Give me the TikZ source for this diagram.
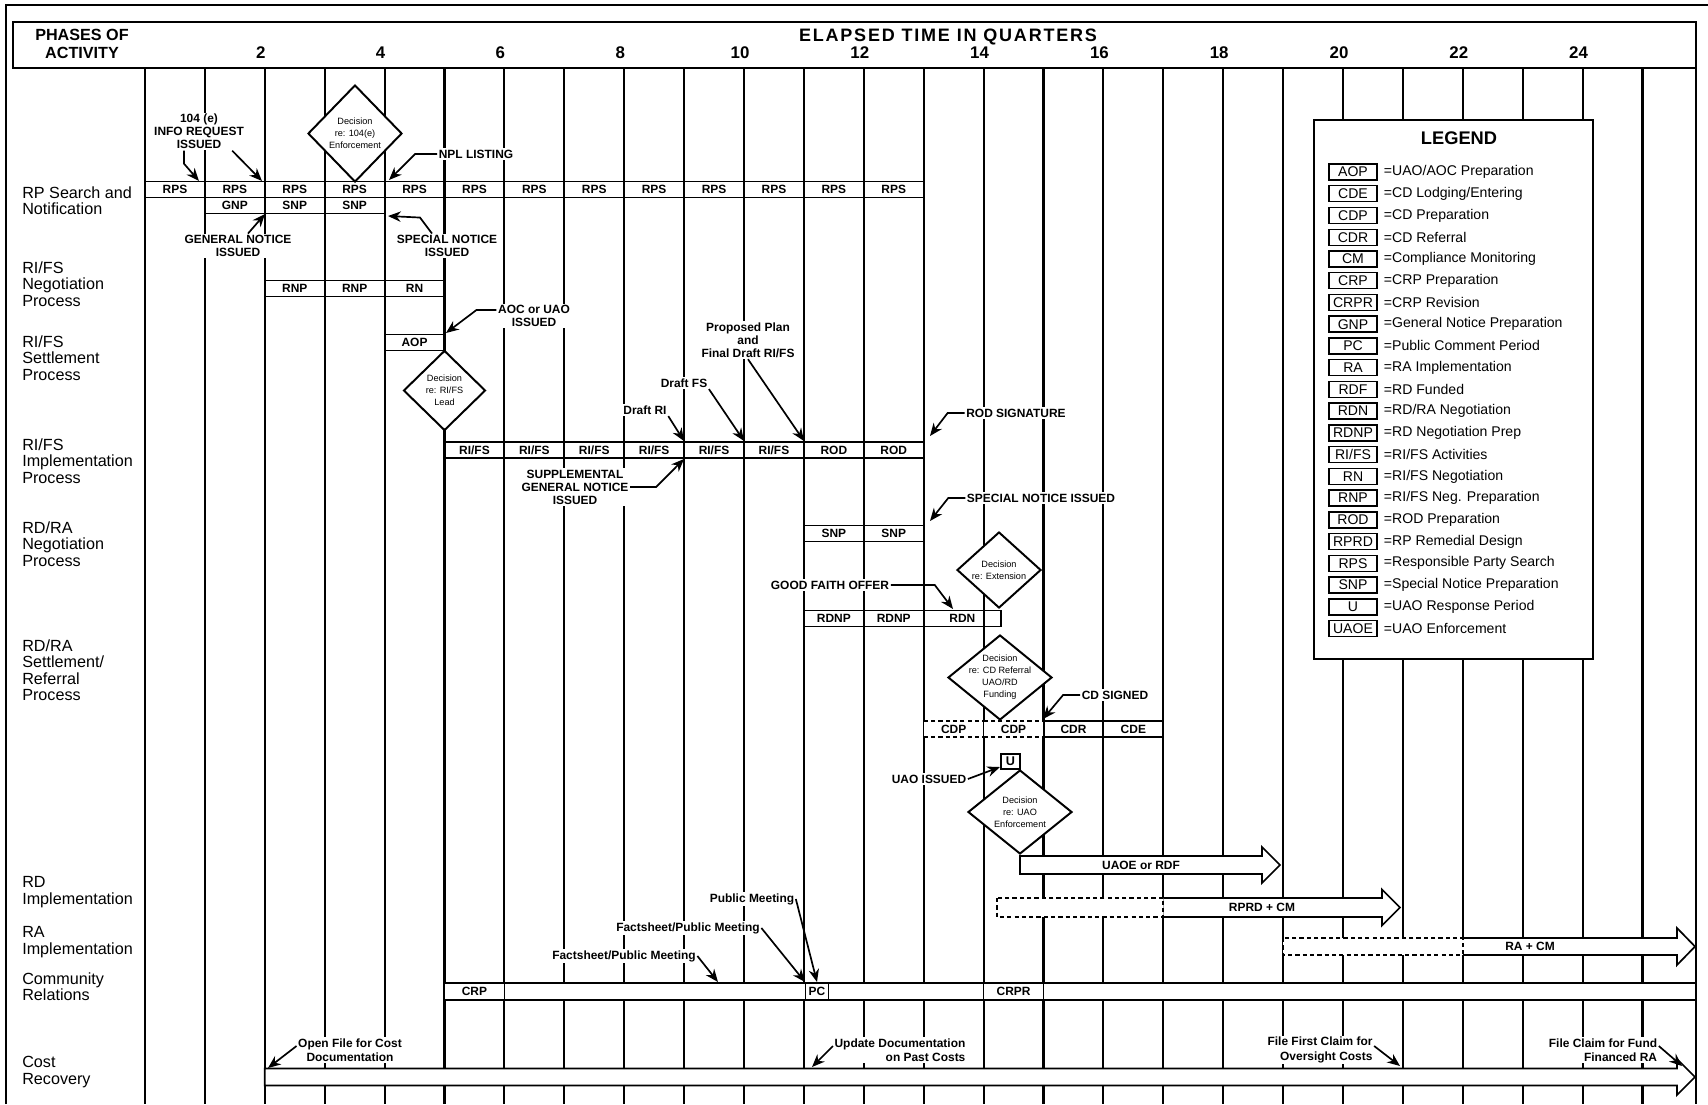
\documentclass[tikz,border=0pt]{standalone}
\usepackage{fontspec}
\setmainfont{Liberation Sans}
\usetikzlibrary{arrows.meta,positioning,shapes.geometric}

\begin{document}
\begin{tikzpicture}[
  x=0.25mm,y=-0.25mm,
  declare function={q(\k)=145+59.9*\k;},
  grid/.style={line width=1.5pt},
  cell/.style={draw,line width=1pt,minimum width=14.975mm,minimum height=4mm,inner sep=0pt,font=\bfseries\fontsize{8.5}{9}\selectfont},
  dcell/.style={cell,fill=white,dash pattern=on 3pt off 2.2pt},
  note/.style={fill=white,inner sep=1pt,align=center,font=\bfseries\fontsize{8.5}{9.3}\selectfont},
  costnote/.style={note,font=\bfseries\fontsize{8.5}{10.3}\selectfont},
  phase/.style={anchor=north west,inner sep=0pt,align=left,font=\fontsize{11.5}{11.8}\selectfont},
  decide/.style={diamond,draw,line width=1.4pt,fill=white,inner sep=0pt},
  dtext/.style={align=center,inner sep=0pt,font=\fontsize{6.5}{8.5}\selectfont},
  call/.style={-{Stealth[length=3.2mm,width=2.6mm]},line width=1.2pt},
  bigarrow/.style={draw,line width=1.2pt,fill=white,line join=miter},
  dotbox/.style={draw,line width=1.2pt,fill=white,dash pattern=on 3pt off 2.2pt},
  barlabel/.style={font=\bfseries\fontsize{8.5}{9}\selectfont},
  tag/.style={draw,line width=1pt,minimum width=12mm,minimum height=4mm,inner sep=0pt,font=\fontsize{10}{10}\selectfont},
  num/.style={font=\bfseries\fontsize{12}{12}\selectfont}
]
\useasboundingbox (0,0) rectangle (1708,1104);

% frame and header
\draw[line width=1.5pt] (6,1104) -- (6,5) -- (1708,5);
\draw[line width=1.3pt] (13,22) rectangle (1696,68);
\node[font=\bfseries\fontsize{11.5}{12.5}\selectfont,align=center] (phases) at (82,44) {PHASES OF\\ACTIVITY};
\node[font=\bfseries\fontsize{12.8}{13}\selectfont\addfontfeature{LetterSpace=10}] (elapsed) at (948,37) {ELAPSED TIME IN QUARTERS};
\foreach \k in {2,4,...,24}
  \node[num] (n\k) at ({q(\k)-4},53) {\k};

% quarter lines
\foreach \k in {0,...,25}
  \draw[grid] ({q(\k)},68) -- ({q(\k)},1104);
\draw[grid] (1696,68) -- (1696,1104);

% phase labels
\node[phase] (ph1) at (22,186) {RP Search and\\Notification};
\node[phase] (ph2) at (22,261) {RI/FS\\Negotiation\\Process};
\node[phase] (ph3) at (22,335) {RI/FS\\Settlement\\Process};
\node[phase] (ph4) at (22,438) {RI/FS\\Implementation\\Process};
\node[phase] (ph5) at (22,521) {RD/RA\\Negotiation\\Process};
\node[phase] (ph6) at (22,639) {RD/RA\\Settlement/\\Referral\\Process};
\node[phase] (ph7) at (22,876) {RD\\Implementation};
\node[phase] (ph8) at (22,926) {RA\\Implementation};
\node[phase] (ph9) at (22,972) {Community\\Relations};
\node[phase] (ph10) at (22,1056) {Cost\\Recovery};

% legend
\draw[line width=1.3pt,fill=white] (1314,120) rectangle (1593,659);
\node[font=\bfseries\fontsize{13}{13}\selectfont] (legend) at (1459,138) {LEGEND};
\foreach \t/\d [count=\i from 0] in {{AOP}/{UAO/AOC Preparation},{CDE}/{CD Lodging/Entering},
  {CDP}/{CD Preparation},{CDR}/{CD Referral},{CM}/{Compliance Monitoring},{CRP}/{CRP Preparation},
  {CRPR}/{CRP Revision},{GNP}/{General Notice Preparation},{PC}/{Public Comment Period},
  {RA}/{RA Implementation},{RDF}/{RD Funded},{RDN}/{RD/RA Negotiation},{RDNP}/{RD Negotiation Prep},
  {RI/FS}/{RI/FS Activities},{RN}/{RI/FS Negotiation},{RNP}/{RI/FS Neg. Preparation},
  {ROD}/{ROD Preparation},{RPRD}/{RP Remedial Design},{RPS}/{Responsible Party Search},
  {SNP}/{Special Notice Preparation},{U}/{UAO Response Period},{UAOE}/{UAO Enforcement}}
{
  \node[tag] (tag\i) at (1353,{172+21.74*\i}) {\t};
  \node[anchor=west,inner sep=0pt,font=\fontsize{10}{10}\selectfont] (key\i) at ([xshift=1.5mm]tag\i.east) {=\d};
}

% RP search and notification
\foreach \k in {0,...,12}
  \node[cell] (rps\k) at ({q(\k+0.5)},189.5) {RPS};
\node[cell] (gnp) at ({q(1.5)},205.5) {GNP};
\node[cell] (snpa) at ({q(2.5)},205.5) {SNP};
\node[cell] (snpb) at ({q(3.5)},205.5) {SNP};

% RI/FS rows
\node[cell] (rnpa) at ({q(2.5)},288.5) {RNP};
\node[cell] (rnpb) at ({q(3.5)},288.5) {RNP};
\node[cell] (rn) at ({q(4.5)},288.5) {RN};
\node[cell] (aop) at ({q(4.5)},342.5) {AOP};
\foreach \k in {5,...,10}
  \node[cell] (rifs\k) at ({q(\k+0.5)},450) {RI/FS};
\node[cell] (roda) at ({q(11.5)},450) {ROD};
\node[cell] (rodb) at ({q(12.5)},450) {ROD};

% RD/RA rows
\node[cell] (snpc) at ({q(11.5)},533.5) {SNP};
\node[cell] (snpd) at ({q(12.5)},533.5) {SNP};
\node[cell] (rdnpa) at ({q(11.5)},618.5) {RDNP};
\node[cell] (rdnpb) at ({q(12.5)},618.5) {RDNP};
\node[cell,minimum width=19.3mm] (rdn) at (962.4,618.5) {RDN};
\node[dcell] (cdpa) at ({q(13.5)},729) {CDP};
\node[dcell] (cdpb) at ({q(14.5)},729) {CDP};
\node[cell] (cdr) at ({q(15.5)},729) {CDR};
\node[cell] (cde) at ({q(16.5)},729) {CDE};

% implementation arrows
\draw[bigarrow] (1020,856) -- (1262,856) -- (1262,847) -- (1280,865) -- (1262,883) -- (1262,874) -- (1020,874) -- cycle;
\node[barlabel] (uaoe) at (1141,865) {UAOE or RDF};
\draw[bigarrow] ({q(17)},898) -- (1382,898) -- (1382,889.5) -- (1400,907.5) -- (1382,925.5) -- (1382,917) -- ({q(17)},917);
\draw[dotbox] (997,898) rectangle ({q(17)},917);
\node[barlabel] (rprd) at (1262,907.5) {RPRD + CM};
\draw[bigarrow] ({q(22)},938) -- (1677,938) -- (1677,928) -- (1695,946.5) -- (1677,965) -- (1677,955) -- ({q(22)},955);
\draw[dotbox] ({q(19)},938) rectangle ({q(22)},955);
\node[barlabel] (racm) at (1530,946.5) {RA + CM};

% community relations
\draw[bigarrow] ({q(5)},983) rectangle (1696,1000);
\node[cell,minimum height=4.25mm] (crp) at ({q(5.5)},991.5) {CRP};
\node[cell,minimum width=5.75mm,minimum height=4.25mm] (pc) at (817,991.5) {PC};
\node[cell,minimum height=4.25mm] (crpr) at ({q(14.5)},991.5) {CRPR};

% cost recovery
\draw[bigarrow] ({q(2)},1068.5) -- (1677,1068.5) -- (1677,1059) -- (1695,1077) -- (1677,1095) -- (1677,1085.5) -- ({q(2)},1085.5) -- cycle;

% decisions
\node[decide,minimum width=23.5mm,minimum height=24.25mm] (dec104) at (355,133.5) {};
\node[dtext] (dec104t) at (dec104) {Decision\\re: 104(e)\\Enforcement};
\node[decide,minimum width=20.5mm,minimum height=20mm] (decri) at ({q(5)},390.5) {};
\node[dtext] (decrit) at (decri) {Decision\\re: RI/FS\\Lead};
\node[decide,minimum width=21mm,minimum height=19mm] (decext) at (999,570) {};
\node[dtext] (decextt) at (decext) {Decision\\re: Extension};
\node[decide,minimum width=26mm,minimum height=21.25mm] (deccd) at (1000,677.5) {};
\node[dtext] (deccdt) at (deccd) {Decision\\re: CD Referral\\UAO/RD\\Funding};
\node[decide,minimum width=26mm,minimum height=21mm] (decuao) at (1020,812) {};
\node[dtext] (decuaot) at (decuao) {Decision\\re: UAO\\Enforcement};
\node[cell,minimum width=4.75mm,minimum height=3.75mm,fill=white,font=\bfseries\fontsize{9}{9}\selectfont] (ubox) at (1010.5,761.5) {U};

% call-outs
\node[note] (info104) at (199,131.5) {104 (e)\\INFO REQUEST\\ISSUED};
\coordinate (t104a) at (199,181);
\coordinate (t104b) at (262,181);
\draw[call] ([xshift=-3.75mm]info104.south) -- ++(0,13) -- (t104a);
\draw[call] (info104.-30) -- (t104b);

\node[note] (npl) at (476,154) {NPL LISTING};
\coordinate (tnpl) at (389,180);
\draw[call] (npl.west) -- ++(-22,0) -- (tnpl);

\node[note] (gni) at (238,246) {GENERAL NOTICE\\ISSUED};
\coordinate (tgni) at (265,214);
\draw[call] ([xshift=2.5mm]gni.north) -- (tgni);

\node[note] (sni) at (447,246) {SPECIAL NOTICE\\ISSUED};
\coordinate (tsni) at (388,216);
\draw[call] ([xshift=-3.75mm]sni.north) -- ++(-12,-16) -- (tsni);

\node[note] (aoc) at (534,316) {AOC or UAO\\ISSUED};
\coordinate (taoc) at (446,333);
\draw[call] ([yshift=1.5mm]aoc.west) -- ++(-20,0) -- (taoc);

\node[note] (ppl) at (748,340) {Proposed Plan\\and\\Final Draft RI/FS};
\coordinate (tppl) at (804,441);
\draw[call] (ppl.south) -- (tppl);

\node[note] (dfs) at (684,383) {Draft FS};
\coordinate (tdfs) at (744,441);
\draw[call] (dfs.south east) -- (tdfs);

\node[note] (dri) at (645,410) {Draft RI};
\coordinate (tdri) at (684,441);
\draw[call] (dri.south east) -- (tdri);

\node[note] (sgn) at (575,487) {SUPPLEMENTAL\\GENERAL NOTICE\\ISSUED};
\coordinate (tsgn) at (684,459);
\draw[call] (sgn.east) -- ++(26,0) -- (tsgn);

\node[note] (rods) at (1016,413) {ROD SIGNATURE};
\coordinate (trods) at (930,436);
\draw[call] (rods.west) -- ++(-17,0) -- (trods);

\node[note] (snib) at (1041,498) {SPECIAL NOTICE ISSUED};
\coordinate (tsnib) at (930,521);
\draw[call] (snib.west) -- ++(-17,0) -- (tsnib);

\node[note] (gfo) at (830,585) {GOOD FAITH OFFER};
\coordinate (tgfo) at (953,609);
\draw[call] (gfo.east) -- ++(44,0) -- (tgfo);

\node[note] (cds) at (1115,695) {CD SIGNED};
\coordinate (tcds) at (1043,719);
\draw[call] (cds.west) -- ++(-17,0) -- (tcds);

\node[note] (uaoi) at (929,779) {UAO ISSUED};
\coordinate (tuaoi) at (1000,767);
\draw[call] (uaoi.east) -- (tuaoi);

\node[note] (pmt) at (752,899) {Public Meeting};
\coordinate (tpmt) at (817,982);
\draw[call] (pmt.east) -- (tpmt);

\node[note] (fpmb) at (688,928) {Factsheet/Public Meeting};
\coordinate (tfpmb) at (805,982);
\draw[call] (fpmb.east) -- (tfpmb);

\node[note] (fpma) at (624,956) {Factsheet/Public Meeting};
\coordinate (tfpma) at (718,982);
\draw[call] (fpma.east) -- (tfpma);

\node[costnote] (ofc) at (350,1050) {Open File for Cost\\Documentation};
\coordinate (tofc) at (268,1068);
\draw[call] ([yshift=1mm]ofc.west) -- (tofc);

\node[costnote,align=right] (udc) at (900,1050) {Update Documentation\\on Past Costs};
\coordinate (tudc) at (812,1067);
\draw[call] ([yshift=1mm]udc.west) -- (tudc);

\node[costnote,align=right] (ffc) at (1320,1050) {File First Claim for\\Oversight Costs};
\coordinate (tffc) at (1400,1066);
\draw[call] ([yshift=1mm]ffc.east) -- (tffc);

\node[costnote,align=right] (fcf) at (1603,1050) {File Claim for Fund\\Financed RA};
\coordinate (tfcf) at (1682,1066);
\draw[call] ([yshift=1mm]fcf.east) -- (tfcf);
\end{tikzpicture}
\end{document}
